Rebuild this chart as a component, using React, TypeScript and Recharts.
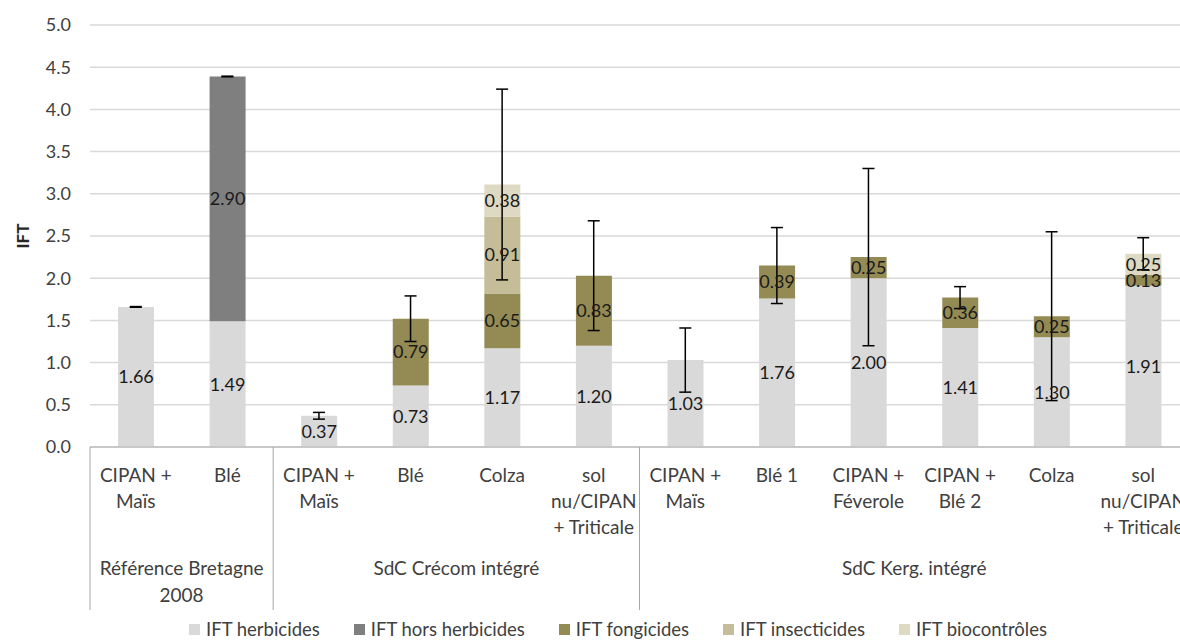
import React from 'react';
import { ComposedChart, Bar, Line, XAxis, YAxis, CartesianGrid, Legend, LabelList, ErrorBar, Label } from 'recharts';

const CATEGORIES = [
  'CIPAN +\nMaïs', 'Blé',
  'CIPAN +\nMaïs', 'Blé', 'Colza', 'sol\nnu/CIPAN\n+ Triticale',
  'CIPAN +\nMaïs', 'Blé 1', 'CIPAN +\nFéverole', 'CIPAN +\nBlé 2', 'Colza', 'sol\nnu/CIPAN\n+ Triticale',
];
const GROUP_NAMES = ['Référence Bretagne\n2008', 'SdC Crécom intégré', 'SdC Kerg. intégré'];
const GROUP_SIZES = [2, 4, 6];

const HERBICIDES = [1.66, 1.49, 0.37, 0.73, 1.17, 1.2, 1.03, 1.76, 2.0, 1.41, 1.3, 1.91];
const HORS_HERBICIDES = [0, 2.9, 0, 0, 0, 0, 0, 0, 0, 0, 0, 0];
const FONGICIDES = [0, 0, 0, 0.79, 0.65, 0.83, 0, 0.39, 0.25, 0.36, 0.25, 0.13];
const INSECTICIDES = [0, 0, 0, 0, 0.91, 0, 0, 0, 0, 0, 0, 0];
const BIOCONTROLES = [0, 0, 0, 0, 0.38, 0, 0, 0, 0, 0, 0, 0.25];
const ERRORS = [0.004, 0.004, 0.04, 0.27, 1.13, 0.65, 0.38, 0.45, 1.05, 0.13, 1.0, 0.19];

const Y_TICKS = [0, 0.5, 1, 1.5, 2, 2.5, 3, 3.5, 4, 4.5, 5];

const SERIES = [
  { key: 'herb', name: 'IFT herbicides', color: '#d9d9d9' },
  { key: 'hors', name: 'IFT hors herbicides', color: '#7f7f7f' },
  { key: 'fong', name: 'IFT fongicides', color: '#948a54' },
  { key: 'insect', name: 'IFT insecticides', color: '#c4bd97' },
  { key: 'bio', name: 'IFT biocontrôles', color: '#ddd9c3' },
];

const CHART_W = 1200;
const CHART_H = 640;
const MARGIN = { top: 25, right: 11, left: 0, bottom: 0 };
const Y_W = 90;
const PLOT_W = CHART_W - MARGIN.left - MARGIN.right - Y_W;
const FONT = 'Lato, "Open Sans", sans-serif';

const data = CATEGORIES.map((name, i) => ({
  idx: i,
  name,
  herb: HERBICIDES[i],
  hors: HORS_HERBICIDES[i],
  fong: FONGICIDES[i],
  insect: INSECTICIDES[i],
  bio: BIOCONTROLES[i],
  total: HERBICIDES[i] + HORS_HERBICIDES[i] + FONGICIDES[i] + INSECTICIDES[i] + BIOCONTROLES[i],
  err: ERRORS[i],
}));

// index of first category in each group
const GROUP_STARTS = GROUP_SIZES.map((_, g) => GROUP_SIZES.slice(0, g).reduce((a, b) => a + b, 0));

const fmt = (v: any) => (v ? Number(v).toFixed(2) : '');

const CategoryTick = (props: any) => {
  const { x, y, payload } = props;
  const i = payload.index ?? props.index;
  const half = payload.offset || PLOT_W / CATEGORIES.length / 2;
  const lines = CATEGORIES[i].split('\n');
  const g = GROUP_STARTS.indexOf(i);
  const isLast = i === CATEGORIES.length - 1;
  return (
    <g>
      {lines.map((l, k) => (
        <text key={k} x={x} y={y + 35 + k * 26} textAnchor="middle" fontSize={19} fill="#404040" fontFamily={FONT}>
          {l}
        </text>
      ))}
      {g >= 0 && (
        <>
          <line x1={x - half} x2={x - half} y1={y} y2={y + 163} stroke="#a6a6a6" />
          {GROUP_NAMES[g].split('\n').map((l, k) => (
            <text
              key={'g' + k}
              x={x - half + GROUP_SIZES[g] * half}
              y={y + 128 + k * 27}
              textAnchor="middle"
              fontSize={19}
              fill="#404040"
              fontFamily={FONT}
            >
              {l}
            </text>
          ))}
        </>
      )}
      {isLast && <line x1={x + half} x2={x + half} y1={y} y2={y + 163} stroke="#a6a6a6" />}
    </g>
  );
};

const renderLegend = () => (
  <div
    style={{
      display: 'flex',
      justifyContent: 'center',
      alignItems: 'center',
      height: 21,
      fontFamily: FONT,
      fontSize: 18.5,
      color: '#404040',
      lineHeight: '21px',
    }}
  >
    {SERIES.map((s) => (
      <div key={s.key} style={{ display: 'flex', alignItems: 'center', margin: '0 17px' }}>
        <span style={{ width: 11, height: 11, background: s.color, marginRight: 6, display: 'inline-block' }} />
        <span>{s.name}</span>
      </div>
    ))}
  </div>
);

export default function App() {
  return (
    <div style={{ position: 'fixed', left: 0, top: 0, width: 1180, height: 640, overflow: 'hidden', background: '#fff' }}>
      <ComposedChart width={CHART_W} height={CHART_H} data={data} margin={MARGIN} barSize={36}>
        <CartesianGrid vertical={false} stroke="#d9d9d9" strokeWidth={1.5} />
        <XAxis
          dataKey="idx"
          interval={0}
          height={172}
          tickLine={false}
          tickSize={0}
          tickMargin={0}
          axisLine={{ stroke: '#bfbfbf', strokeWidth: 1.5 }}
          tick={<CategoryTick />}
        />
        <YAxis
          width={Y_W}
          domain={[0, 5]}
          ticks={Y_TICKS}
          allowDataOverflow
          axisLine={false}
          tickLine={false}
          tickSize={0}
          tickMargin={19}
          tickFormatter={(v) => v.toFixed(1)}
          tick={{ fontSize: 18, fill: '#404040', fontFamily: FONT }}
        >
          <Label
            content={(p: any) => {
              const vb = p.viewBox || {};
              const cx = vb.x + 22;
              const cy = vb.y + vb.height / 2;
              return (
                <text x={cx} y={cy} transform={`rotate(-90 ${cx} ${cy})`} textAnchor="middle" dominantBaseline="central" fontSize={17} fontWeight="bold" fill="#262626" fontFamily={FONT}>
                  IFT
                </text>
              );
            }}
          />
        </YAxis>
        <Legend verticalAlign="bottom" content={renderLegend} wrapperStyle={{ left: 0, width: 1236 }} />
        {SERIES.map((s) => (
          <Bar key={s.key} dataKey={s.key} name={s.name} stackId="ift" fill={s.color} isAnimationActive={false}>
            <LabelList dataKey={s.key} position="center" formatter={fmt} fontSize={18} fill="#1a1a1a" fontFamily={FONT} />
          </Bar>
        ))}
        <Line
          dataKey="total"
          stroke="none"
          dot={false}
          activeDot={false}
          legendType="none"
          isAnimationActive={false}
        >
          <ErrorBar dataKey="err" width={6} stroke="#000" strokeWidth={1.5} direction="y" />
        </Line>
      </ComposedChart>
    </div>
  );
}
